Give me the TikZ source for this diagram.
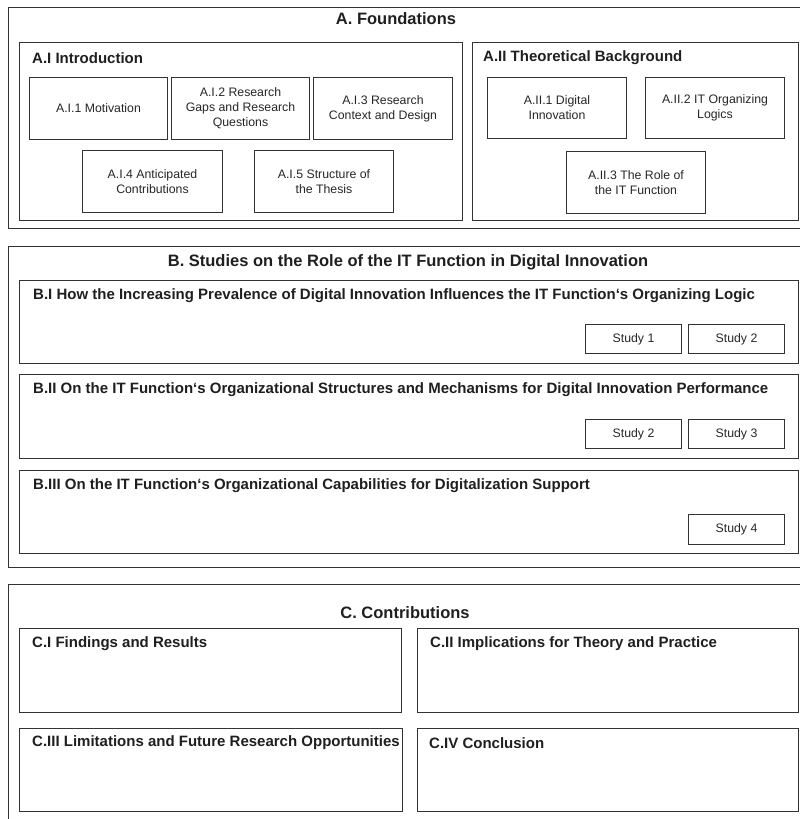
\documentclass[tikz,border=0pt]{standalone}
\usepackage{fontspec}
\setmainfont{Liberation Sans}
\begin{document}
\begin{tikzpicture}[x=1pt,y=-1pt,
  frame/.style={draw=black!80, line width=1pt, rectangle, inner sep=0pt, anchor=north west},
  item/.style={frame, align=center, text=black!85, font=\fontsize{12.3}{15}\selectfont},
  head/.style={anchor=west, inner sep=0pt, text=black!88, font=\bfseries\fontsize{15}{18}\selectfont},
  title/.style={anchor=center, inner sep=0pt, text=black!88, font=\bfseries\fontsize{16.5}{19}\selectfont}]
\useasboundingbox (0,0) rectangle (800,819);
\clip (0,0) rectangle (800,819);
% ---------- A ----------
\node[frame, minimum width=802pt, minimum height=221pt] (A) at (8,7) {};
\node[title] (At) at (396,19) {A. Foundations};
\node[frame, minimum width=443pt, minimum height=178pt] (AI) at (19,42) {};
\node[head] (AIh) at (32,58) {A.I Introduction};
\node[item, minimum width=138pt, minimum height=62pt] (AI1) at (29,77) {A.I.1 Motivation};
\node[item, minimum width=138pt, minimum height=62pt] (AI2) at (171,77) {A.I.2 Research\\Gaps and Research\\Questions};
\node[item, minimum width=139pt, minimum height=62pt] (AI3) at (313,77) {A.I.3 Research\\Context and Design};
\node[item, minimum width=140pt, minimum height=62pt] (AI4) at (82,150) {A.I.4 Anticipated\\Contributions};
\node[item, minimum width=139pt, minimum height=62pt] (AI5) at (254,150) {A.I.5 Structure of\\the Thesis};
\node[frame, minimum width=326pt, minimum height=178pt] (AII) at (472,42) {};
\node[head] (AIIh) at (483,58) {A.II Theoretical Background};
\node[item, minimum width=139pt, minimum height=61pt] (AII1) at (487,77) {A.II.1 Digital\\Innovation};
\node[item, minimum width=139pt, minimum height=61pt] (AII2) at (645,77) {A.II.2 IT Organizing\\Logics};
\node[item, minimum width=139pt, minimum height=62pt] (AII3) at (566,151) {A.II.3 The Role of\\the IT Function};
% ---------- B ----------
\node[frame, minimum width=802pt, minimum height=321pt] (B) at (8,246) {};
\node[title] (Bt) at (408,262) {B. Studies on the Role of the IT Function in Digital Innovation};
\node[frame, minimum width=779pt, minimum height=83pt] (BI) at (19,280) {};
\node[head] (BIh) at (33,296) {B.I How the Increasing Prevalence of Digital Innovation Influences the IT Function‘s Organizing Logic};
\node[item, minimum width=96pt, minimum height=29pt] (S1a) at (585,324) {Study 1};
\node[item, minimum width=96pt, minimum height=29pt] (S2a) at (688,324) {Study 2};
\node[frame, minimum width=779pt, minimum height=84pt] (BII) at (19,374) {};
\node[head] (BIIh) at (33,390) {B.II On the IT Function‘s Organizational Structures and Mechanisms for Digital Innovation Performance};
\node[item, minimum width=96pt, minimum height=29pt] (S2b) at (585,419) {Study 2};
\node[item, minimum width=96pt, minimum height=29pt] (S3b) at (688,419) {Study 3};
\node[frame, minimum width=779pt, minimum height=83pt] (BIII) at (19,470) {};
\node[head] (BIIIh) at (33,486) {B.III On the IT Function‘s Organizational Capabilities for Digitalization Support};
\node[item, minimum width=96pt, minimum height=30pt] (S4c) at (688,514) {Study 4};
% ---------- C ----------
\node[frame, minimum width=802pt, minimum height=250pt] (C) at (8,584) {};
\node[title] (Ct) at (405,613) {C. Contributions};
\node[frame, minimum width=382pt, minimum height=84pt] (CI) at (19,628) {};
\node[head] (CIh) at (32,644) {C.I Findings and Results};
\node[frame, minimum width=381pt, minimum height=84pt] (CII) at (417,628) {};
\node[head] (CIIh) at (430,644) {C.II Implications for Theory and Practice};
\node[frame, minimum width=383pt, minimum height=83pt] (CIII) at (19,728) {};
\node[head] (CIIIh) at (32,743) {C.III Limitations and Future Research Opportunities};
\node[frame, minimum width=381pt, minimum height=83pt] (CIV) at (417,728) {};
\node[head] (CIVh) at (429,743) {C.IV Conclusion};
\end{tikzpicture}
\end{document}
